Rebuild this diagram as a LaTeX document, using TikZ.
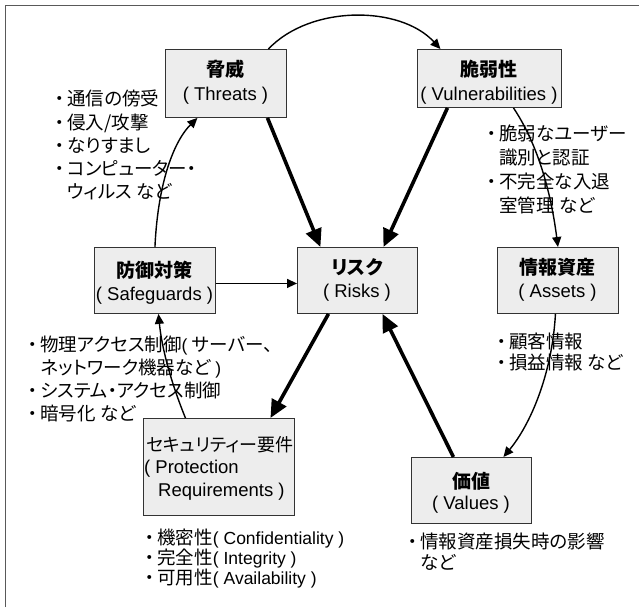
\documentclass[tikz,border=0pt]{standalone}
\usepackage{fontspec}
\setmainfont{Liberation Sans}
\newfontfamily\jp{Noto Sans CJK JP}[RawFeature=+palt]
\usetikzlibrary{arrows.meta}
\newcommand\la[1]{{\rmfamily\fontsize{17.5}{17.5}\selectfont #1}}
\newcommand\bu{・\hspace{3pt}}
\begin{document}
\begin{tikzpicture}[x=1pt,y=-1pt,
  box/.style={draw=black!80, fill=black!7, line width=0.9pt, inner sep=0, anchor=north west},
  jt/.style={font=\jp\fontsize{18.5}{18.5}\selectfont, inner sep=0, anchor=base west},
  tt/.style={font=\jp\bfseries\fontsize{19}{19}\selectfont, inner sep=0, anchor=base},
  pt/.style={font=\jp\fontsize{18}{18}\selectfont, inner sep=0, anchor=base west},
  st/.style={font=\rmfamily\fontsize{18.5}{18.5}\selectfont, inner sep=0, anchor=base},
  thinarr/.style={line width=1.4pt, -{Triangle[length=10pt,width=9pt]}},
  thickarr/.style={line width=3.6pt, -{Triangle[length=18pt,width=16pt]}},
]
\useasboundingbox (0,0) rectangle (639,607);
\fill[white] (0,0) rectangle (639,607);
% frame
\draw[black!65, line width=1.8pt] (5.5,607) -- (5.5,5.5) -- (639,5.5);

% boxes
\node[box, minimum width=121pt, minimum height=68pt] (thr) at (165,49) {};
\node[box, minimum width=144pt, minimum height=58pt] (vul) at (417,49) {};
\node[box, minimum width=120pt, minimum height=66pt] (risk) at (297,247) {};
\node[box, minimum width=121pt, minimum height=66pt] (ast) at (497,247) {};
\node[box, minimum width=121pt, minimum height=66pt] (saf) at (94,247) {};
\node[box, minimum width=151pt, minimum height=97pt] (pro) at (143,418) {};
\node[box, minimum width=120pt, minimum height=66pt] (val) at (411,457) {};

% connectors
\draw[thinarr] ([xshift=42.5pt]thr.north) .. controls (310,5) and (400,5) .. ([xshift=-49pt]vul.north);
\draw[thickarr] ([xshift=41.5pt]thr.south) -- ([xshift=-37pt]risk.north);
\draw[thickarr] ([xshift=-42pt]vul.south) -- ([xshift=26pt]risk.north);
\draw[thinarr] ([xshift=24pt]vul.south) .. controls (535,140) and (550,185) .. (ast.north);
\draw[thinarr] ([xshift=-2.5pt]ast.south) .. controls (552,375) and (530,425) .. ([xshift=32pt]val.north);
\draw[thickarr] ([xshift=-18pt]val.north) -- ([xshift=25pt]risk.south);
\draw[thickarr] ([xshift=-29pt]risk.south) -- ([xshift=51.5pt]pro.north);
\draw[thinarr] ([xshift=-33.5pt]pro.north) .. controls (172,385) and (162,350) .. ([xshift=3.5pt]saf.south);
\draw[thinarr] ([yshift=-3pt]saf.east) -- ([yshift=-3pt]risk.west);
\draw[thinarr] (saf.north) .. controls (158,180) and (175,140) .. ([xshift=-28.5pt]thr.south);

% box texts
\node[tt] (thrT) at (225.5,77) {脅威};
\node[st] (thrS) at (225.5,100) {( Threats )};
\node[tt] (vulT) at (489,77) {脆弱性};
\node[st] (vulS) at (489,101) {( Vulnerabilities )};
\node[tt] (riskT) at (357,274) {リスク};
\node[st] (riskS) at (357,297) {( Risks )};
\node[tt] (astT) at (557.5,274) {情報資産};
\node[st] (astS) at (557.5,297) {( Assets )};
\node[tt] (safT) at (154.5,277) {防御対策};
\node[st] (safS) at (154.5,300) {( Safeguards )};
\node[tt] (valT) at (471,488) {価値};
\node[st] (valS) at (471,509) {( Values )};
\node[pt] (proT) at (146,451) {セキュリティー要件};
\node[pt] (proS1) at (144,473) {\rmfamily\fontsize{18.5}{18.5}\selectfont( Protection};
\node[pt] (proS2) at (158,496) {\rmfamily\fontsize{18.5}{18.5}\selectfont Requirements )};

% threats list
\node[jt] (t1) at (55,106) {\bu 通信の傍受};
\node[jt] (t2) at (55,129) {\bu 侵入/攻撃};
\node[jt] (t3) at (55,152) {\bu なりすまし};
\node[jt] (t4) at (55,175) {\bu コンピューター・};
\node[jt] (t5) at (55,198) {\phantom{\bu}ウィルス など};

% vulnerabilities list
\node[jt] (v1) at (487,140) {\bu 脆弱なユーザー};
\node[jt] (v2) at (487,164) {\phantom{\bu}識別と認証};
\node[jt] (v3) at (487,188) {\bu 不完全な入退};
\node[jt] (v4) at (487,212) {\phantom{\bu}室管理 など};

% assets list
\node[jt] (a1) at (497,348) {\bu 顧客情報};
\node[jt] (a2) at (497,369) {\bu 損益情報 など};

% safeguards list
\node[jt] (s1) at (28,351) {\bu 物理アクセス制御\la{( }サーバー、};
\node[jt] (s2) at (28,374) {\phantom{\bu}ネットワーク機器など\la{ )}};
\node[jt] (s3) at (28,397) {\bu システム・アクセス制御};
\node[jt] (s4) at (28,420) {\bu 暗号化 など};

% protection list
\node[jt] (p1) at (145,544) {\bu 機密性\la{( Confidentiality )}};
\node[jt] (p2) at (145,564) {\bu 完全性\la{( Integrity )}};
\node[jt] (p3) at (145,584) {\bu 可用性\la{( Availability )}};

% values list
\node[jt] (w1) at (408,548) {\bu 情報資産損失時の影響};
\node[jt] (w2) at (408,569) {\phantom{\bu}など};
\end{tikzpicture}
\end{document}
